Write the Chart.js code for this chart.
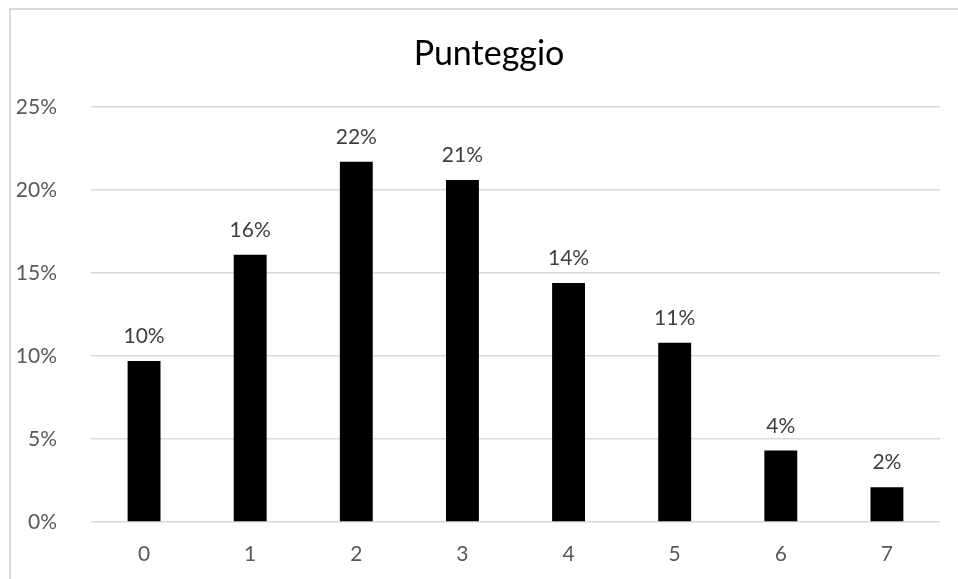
<!DOCTYPE html>
<html>
<head>
<meta charset="utf-8">
<script src="https://cdn.jsdelivr.net/npm/chart.js@4/dist/chart.umd.min.js"></script>
<style>
  html, body { margin: 0; padding: 0; background: #fff; }
  #wrap { position: relative; width: 958px; height: 579px; overflow: hidden; }
  #frame { position: absolute; left: 9px; top: 8px; width: 1000px; height: 1000px;
           border-top: 2px solid #d9d9d9; border-left: 2px solid #d9d9d9; box-sizing: border-box; }
  canvas { position: absolute; left: 0; top: 0; }
</style>
</head>
<body>
<div id="wrap">
  <div id="frame"></div>
  <canvas id="c" width="958" height="579"></canvas>
</div>
<script>
const titleText = 'Punteggio';
const categories = ['0', '1', '2', '3', '4', '5', '6', '7'];
const values = [9.7, 16.1, 21.7, 20.6, 14.4, 10.8, 4.3, 2.1];
const yTicks = [0, 5, 10, 15, 20, 25];

const labelPlugin = {
  id: 'barLabels',
  afterDatasetsDraw(chart) {
    const ctx = chart.ctx;
    const meta = chart.getDatasetMeta(0);
    ctx.save();
    ctx.font = '21px Lato';
    ctx.fillStyle = '#404040';
    ctx.textAlign = 'center';
    ctx.textBaseline = 'alphabetic';
    meta.data.forEach((bar, i) => {
      ctx.fillText(Math.round(values[i]) + '%', bar.x, bar.y - 18);
    });
    // chart title, centred on the whole chart frame
    ctx.font = '34px Lato';
    ctx.fillStyle = '#000000';
    ctx.fillText(titleText, 489, 65);
    ctx.restore();
  }
};

new Chart(document.getElementById('c'), {
  type: 'bar',
  data: {
    labels: categories,
    datasets: [{
      data: values,
      backgroundColor: '#000000',
      borderWidth: 0,
      categoryPercentage: 1,
      barPercentage: 0.31
    }]
  },
  options: {
    responsive: false,
    animation: false,
    layout: { padding: { top: 107, right: 18, bottom: 0, left: 0 } },
    plugins: {
      legend: { display: false },
      tooltip: { enabled: false },
      title: { display: false }
    },
    scales: {
      x: {
        afterFit(scale) { scale.height = 57; },
        grid: { display: false, drawTicks: false },
        border: { display: false },
        ticks: { color: '#595959', font: { family: 'Lato', size: 21 }, padding: 20 }
      },
      y: {
        min: 0,
        max: 25,
        afterBuildTicks(scale) { scale.ticks = yTicks.map(v => ({ value: v })); },
        afterFit(scale) { scale.width = 91; },
        grid: { color: '#d9d9d9', lineWidth: 1.5, drawTicks: false },
        border: { display: false },
        ticks: {
          color: '#595959',
          font: { family: 'Lato', size: 21 },
          padding: 34,
          callback: v => v + '%'
        }
      }
    }
  },
  plugins: [labelPlugin]
});
</script>
</body>
</html>
